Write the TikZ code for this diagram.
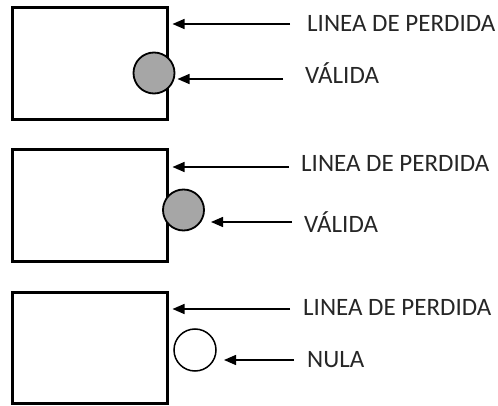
\documentclass[tikz,border=0pt]{standalone}
\usepackage{fontspec}
\setmainfont{Carlito}
\usetikzlibrary{arrows.meta}
\tikzset{
  panel/.style={draw=black, line width=3pt, rectangle, outer sep=0pt, inner sep=0pt,
    minimum width=154.5pt, minimum height=112pt},
  ball/.style={draw=black, line width=1.8pt, circle, outer sep=0pt, inner sep=0pt,
    minimum size=41pt, fill=gray!70!white},
  nullball/.style={draw=black, line width=1.5pt, circle, outer sep=0pt, inner sep=0pt,
    minimum size=42pt},
  lab/.style={anchor=base west, inner sep=0pt, text=black!85,
    font=\fontsize{25}{29}\selectfont},
  arr/.style={line width=1.4pt, -{Triangle[length=12pt,width=10pt]}},
}
\begin{document}
\begin{tikzpicture}[x=1pt,y=-1pt]
\useasboundingbox (0,0) rectangle (498,406);
% panel 1
\node[panel] (b1) at (89.75,63.5) {};
\node[ball] (c1) at (154,73) {};
\node[lab] (l1) at (307,31.7) {LINEA DE PERDIDA};
\node[lab] (v1) at (305,83.5) {VÁLIDA};
\coordinate (t1) at (290,24);
\coordinate (u1) at (283,79);
\draw[arr, shorten >=5.5pt] (t1) -- (t1 -| b1.east);
\draw[arr, shorten >=3pt] (u1) -- (u1 -| c1.east);
% panel 2
\node[panel] (b2) at (89.75,205.7) {};
\node[ball] (c2) at (183.5,210) {};
\node[lab] (l2) at (301,172) {LINEA DE PERDIDA};
\node[lab] (v2) at (304,233) {VÁLIDA};
\coordinate (t2) at (289,167);
\coordinate (u2) at (292,222);
\draw[arr, shorten >=5.5pt] (t2) -- (t2 -| b2.east);
\draw[arr, shorten >=7pt] (u2) -- (u2 -| c2.east);
% panel 3
\node[panel, minimum height=111pt] (b3) at (89.75,348) {};
\node[nullball] (c3) at (195,350) {};
\node[lab] (l3) at (303,315) {LINEA DE PERDIDA};
\node[lab] (v3) at (307,367) {NULA};
\coordinate (t3) at (290,309);
\coordinate (u3) at (294,360);
\draw[arr, shorten >=5.5pt] (t3) -- (t3 -| b3.east);
\draw[arr, shorten >=8pt] (u3) -- (u3 -| c3.east);
\end{tikzpicture}
\end{document}
